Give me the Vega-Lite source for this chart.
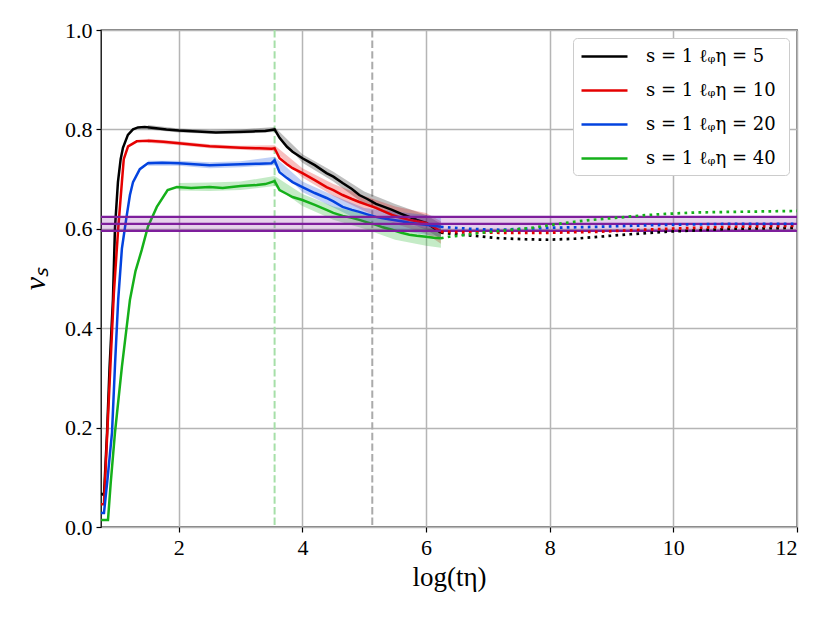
{
  "$schema": "https://vega.github.io/schema/vega-lite/v6.json",
  "width": 696,
  "height": 497,
  "autosize": {"type": "none"},
  "padding": {"left": 101, "top": 30, "right": 33, "bottom": 96},
  "config": {
    "font": "Liberation Serif",
    "view": {"stroke": "black", "strokeWidth": 1.3},
    "axis": {
      "grid": true,
      "gridColor": "#b5b5b5",
      "gridWidth": 1.5,
      "domain": false,
      "tickColor": "black",
      "tickSize": 5,
      "tickWidth": 1.2,
      "labelFontSize": 22,
      "labelColor": "black",
      "titleFontSize": 27,
      "titleFontWeight": "normal",
      "titleColor": "black"
    }
  },
  "datasets": {
    "curves": [
      {"s": "s = 1  ℓᵩη = 5", "seg": "solid", "x": 0.742, "y": 0.068},
      {"s": "s = 1  ℓᵩη = 5", "seg": "solid", "x": 0.79, "y": 0.064},
      {"s": "s = 1  ℓᵩη = 5", "seg": "solid", "x": 0.84, "y": 0.19},
      {"s": "s = 1  ℓᵩη = 5", "seg": "solid", "x": 0.88, "y": 0.32},
      {"s": "s = 1  ℓᵩη = 5", "seg": "solid", "x": 0.935, "y": 0.457},
      {"s": "s = 1  ℓᵩη = 5", "seg": "solid", "x": 0.968, "y": 0.602},
      {"s": "s = 1  ℓᵩη = 5", "seg": "solid", "x": 1.016, "y": 0.694},
      {"s": "s = 1  ℓᵩη = 5", "seg": "solid", "x": 1.06, "y": 0.74},
      {"s": "s = 1  ℓᵩη = 5", "seg": "solid", "x": 1.097, "y": 0.763},
      {"s": "s = 1  ℓᵩη = 5", "seg": "solid", "x": 1.177, "y": 0.789},
      {"s": "s = 1  ℓᵩη = 5", "seg": "solid", "x": 1.26, "y": 0.8},
      {"s": "s = 1  ℓᵩη = 5", "seg": "solid", "x": 1.34, "y": 0.804},
      {"s": "s = 1  ℓᵩη = 5", "seg": "solid", "x": 1.45, "y": 0.805},
      {"s": "s = 1  ℓᵩη = 5", "seg": "solid", "x": 1.6, "y": 0.803},
      {"s": "s = 1  ℓᵩη = 5", "seg": "solid", "x": 1.8, "y": 0.8},
      {"s": "s = 1  ℓᵩη = 5", "seg": "solid", "x": 2.0, "y": 0.798},
      {"s": "s = 1  ℓᵩη = 5", "seg": "solid", "x": 2.3, "y": 0.796},
      {"s": "s = 1  ℓᵩη = 5", "seg": "solid", "x": 2.6, "y": 0.794},
      {"s": "s = 1  ℓᵩη = 5", "seg": "solid", "x": 2.9, "y": 0.795},
      {"s": "s = 1  ℓᵩη = 5", "seg": "solid", "x": 3.2, "y": 0.796},
      {"s": "s = 1  ℓᵩη = 5", "seg": "solid", "x": 3.4, "y": 0.797},
      {"s": "s = 1  ℓᵩη = 5", "seg": "solid", "x": 3.55, "y": 0.8},
      {"s": "s = 1  ℓᵩη = 5", "seg": "solid", "x": 3.63, "y": 0.783},
      {"s": "s = 1  ℓᵩη = 5", "seg": "solid", "x": 3.75, "y": 0.765},
      {"s": "s = 1  ℓᵩη = 5", "seg": "solid", "x": 3.84, "y": 0.755},
      {"s": "s = 1  ℓᵩη = 5", "seg": "solid", "x": 4.0, "y": 0.742},
      {"s": "s = 1  ℓᵩη = 5", "seg": "solid", "x": 4.2, "y": 0.728},
      {"s": "s = 1  ℓᵩη = 5", "seg": "solid", "x": 4.39, "y": 0.712},
      {"s": "s = 1  ℓᵩη = 5", "seg": "solid", "x": 4.5, "y": 0.705},
      {"s": "s = 1  ℓᵩη = 5", "seg": "solid", "x": 4.65, "y": 0.692},
      {"s": "s = 1  ℓᵩη = 5", "seg": "solid", "x": 4.8, "y": 0.68},
      {"s": "s = 1  ℓᵩη = 5", "seg": "solid", "x": 4.92, "y": 0.668},
      {"s": "s = 1  ℓᵩη = 5", "seg": "solid", "x": 5.05, "y": 0.66},
      {"s": "s = 1  ℓᵩη = 5", "seg": "solid", "x": 5.19, "y": 0.65},
      {"s": "s = 1  ℓᵩη = 5", "seg": "solid", "x": 5.3, "y": 0.645},
      {"s": "s = 1  ℓᵩη = 5", "seg": "solid", "x": 5.45, "y": 0.638},
      {"s": "s = 1  ℓᵩη = 5", "seg": "solid", "x": 5.6, "y": 0.63},
      {"s": "s = 1  ℓᵩη = 5", "seg": "solid", "x": 5.73, "y": 0.624},
      {"s": "s = 1  ℓᵩη = 5", "seg": "solid", "x": 5.85, "y": 0.618},
      {"s": "s = 1  ℓᵩη = 5", "seg": "solid", "x": 6.0, "y": 0.612},
      {"s": "s = 1  ℓᵩη = 5", "seg": "solid", "x": 6.12, "y": 0.602},
      {"s": "s = 1  ℓᵩη = 5", "seg": "solid", "x": 6.24, "y": 0.592},
      {"s": "s = 1  ℓᵩη = 5", "seg": "dotted", "x": 6.24, "y": 0.592},
      {"s": "s = 1  ℓᵩη = 5", "seg": "dotted", "x": 6.6, "y": 0.588},
      {"s": "s = 1  ℓᵩη = 5", "seg": "dotted", "x": 7.18, "y": 0.581},
      {"s": "s = 1  ℓᵩη = 5", "seg": "dotted", "x": 7.6, "y": 0.579},
      {"s": "s = 1  ℓᵩη = 5", "seg": "dotted", "x": 7.98, "y": 0.578},
      {"s": "s = 1  ℓᵩη = 5", "seg": "dotted", "x": 8.4, "y": 0.58},
      {"s": "s = 1  ℓᵩη = 5", "seg": "dotted", "x": 8.79, "y": 0.584},
      {"s": "s = 1  ℓᵩη = 5", "seg": "dotted", "x": 9.3, "y": 0.589},
      {"s": "s = 1  ℓᵩη = 5", "seg": "dotted", "x": 9.87, "y": 0.594},
      {"s": "s = 1  ℓᵩη = 5", "seg": "dotted", "x": 10.4, "y": 0.597},
      {"s": "s = 1  ℓᵩη = 5", "seg": "dotted", "x": 10.93, "y": 0.6},
      {"s": "s = 1  ℓᵩη = 5", "seg": "dotted", "x": 11.5, "y": 0.601},
      {"s": "s = 1  ℓᵩη = 5", "seg": "dotted", "x": 12.0, "y": 0.602},

      {"s": "s = 1  ℓᵩη = 10", "seg": "solid", "x": 0.742, "y": 0.046},
      {"s": "s = 1  ℓᵩη = 10", "seg": "solid", "x": 0.79, "y": 0.046},
      {"s": "s = 1  ℓᵩη = 10", "seg": "solid", "x": 0.84, "y": 0.18},
      {"s": "s = 1  ℓᵩη = 10", "seg": "solid", "x": 0.9, "y": 0.34},
      {"s": "s = 1  ℓᵩη = 10", "seg": "solid", "x": 0.95, "y": 0.47},
      {"s": "s = 1  ℓᵩη = 10", "seg": "solid", "x": 1.02, "y": 0.6},
      {"s": "s = 1  ℓᵩη = 10", "seg": "solid", "x": 1.08, "y": 0.694},
      {"s": "s = 1  ℓᵩη = 10", "seg": "solid", "x": 1.11, "y": 0.74},
      {"s": "s = 1  ℓᵩη = 10", "seg": "solid", "x": 1.18, "y": 0.766},
      {"s": "s = 1  ℓᵩη = 10", "seg": "solid", "x": 1.32, "y": 0.776},
      {"s": "s = 1  ℓᵩη = 10", "seg": "solid", "x": 1.5, "y": 0.777},
      {"s": "s = 1  ℓᵩη = 10", "seg": "solid", "x": 1.75, "y": 0.775},
      {"s": "s = 1  ℓᵩη = 10", "seg": "solid", "x": 2.0, "y": 0.772},
      {"s": "s = 1  ℓᵩη = 10", "seg": "solid", "x": 2.5, "y": 0.766},
      {"s": "s = 1  ℓᵩη = 10", "seg": "solid", "x": 3.0, "y": 0.763},
      {"s": "s = 1  ℓᵩη = 10", "seg": "solid", "x": 3.3, "y": 0.762},
      {"s": "s = 1  ℓᵩη = 10", "seg": "solid", "x": 3.5, "y": 0.761},
      {"s": "s = 1  ℓᵩη = 10", "seg": "solid", "x": 3.55, "y": 0.762},
      {"s": "s = 1  ℓᵩη = 10", "seg": "solid", "x": 3.63, "y": 0.742},
      {"s": "s = 1  ℓᵩη = 10", "seg": "solid", "x": 3.75, "y": 0.73},
      {"s": "s = 1  ℓᵩη = 10", "seg": "solid", "x": 3.84, "y": 0.722},
      {"s": "s = 1  ℓᵩη = 10", "seg": "solid", "x": 4.0, "y": 0.712},
      {"s": "s = 1  ℓᵩη = 10", "seg": "solid", "x": 4.2, "y": 0.698},
      {"s": "s = 1  ℓᵩη = 10", "seg": "solid", "x": 4.39, "y": 0.684},
      {"s": "s = 1  ℓᵩη = 10", "seg": "solid", "x": 4.5, "y": 0.678},
      {"s": "s = 1  ℓᵩη = 10", "seg": "solid", "x": 4.65, "y": 0.668},
      {"s": "s = 1  ℓᵩη = 10", "seg": "solid", "x": 4.8, "y": 0.66},
      {"s": "s = 1  ℓᵩη = 10", "seg": "solid", "x": 4.92, "y": 0.654},
      {"s": "s = 1  ℓᵩη = 10", "seg": "solid", "x": 5.05, "y": 0.648},
      {"s": "s = 1  ℓᵩη = 10", "seg": "solid", "x": 5.19, "y": 0.642},
      {"s": "s = 1  ℓᵩη = 10", "seg": "solid", "x": 5.3, "y": 0.636},
      {"s": "s = 1  ℓᵩη = 10", "seg": "solid", "x": 5.45, "y": 0.628},
      {"s": "s = 1  ℓᵩη = 10", "seg": "solid", "x": 5.6, "y": 0.622},
      {"s": "s = 1  ℓᵩη = 10", "seg": "solid", "x": 5.73, "y": 0.618},
      {"s": "s = 1  ℓᵩη = 10", "seg": "solid", "x": 5.85, "y": 0.615},
      {"s": "s = 1  ℓᵩη = 10", "seg": "solid", "x": 6.0, "y": 0.612},
      {"s": "s = 1  ℓᵩη = 10", "seg": "solid", "x": 6.12, "y": 0.604},
      {"s": "s = 1  ℓᵩη = 10", "seg": "solid", "x": 6.24, "y": 0.594},
      {"s": "s = 1  ℓᵩη = 10", "seg": "dotted", "x": 6.24, "y": 0.594},
      {"s": "s = 1  ℓᵩη = 10", "seg": "dotted", "x": 6.7, "y": 0.593},
      {"s": "s = 1  ℓᵩη = 10", "seg": "dotted", "x": 7.18, "y": 0.592},
      {"s": "s = 1  ℓᵩη = 10", "seg": "dotted", "x": 7.98, "y": 0.592},
      {"s": "s = 1  ℓᵩη = 10", "seg": "dotted", "x": 8.79, "y": 0.594},
      {"s": "s = 1  ℓᵩη = 10", "seg": "dotted", "x": 9.3, "y": 0.597},
      {"s": "s = 1  ℓᵩη = 10", "seg": "dotted", "x": 9.87, "y": 0.6},
      {"s": "s = 1  ℓᵩη = 10", "seg": "dotted", "x": 10.4, "y": 0.602},
      {"s": "s = 1  ℓᵩη = 10", "seg": "dotted", "x": 10.93, "y": 0.604},
      {"s": "s = 1  ℓᵩη = 10", "seg": "dotted", "x": 11.5, "y": 0.605},
      {"s": "s = 1  ℓᵩη = 10", "seg": "dotted", "x": 12.0, "y": 0.606},

      {"s": "s = 1  ℓᵩη = 20", "seg": "solid", "x": 0.742, "y": 0.028},
      {"s": "s = 1  ℓᵩη = 20", "seg": "solid", "x": 0.79, "y": 0.028},
      {"s": "s = 1  ℓᵩη = 20", "seg": "solid", "x": 0.85, "y": 0.1},
      {"s": "s = 1  ℓᵩη = 20", "seg": "solid", "x": 0.92, "y": 0.19},
      {"s": "s = 1  ℓᵩη = 20", "seg": "solid", "x": 0.97, "y": 0.33},
      {"s": "s = 1  ℓᵩη = 20", "seg": "solid", "x": 1.02, "y": 0.457},
      {"s": "s = 1  ℓᵩη = 20", "seg": "solid", "x": 1.08, "y": 0.56},
      {"s": "s = 1  ℓᵩη = 20", "seg": "solid", "x": 1.15, "y": 0.62},
      {"s": "s = 1  ℓᵩη = 20", "seg": "solid", "x": 1.21, "y": 0.668},
      {"s": "s = 1  ℓᵩη = 20", "seg": "solid", "x": 1.26, "y": 0.694},
      {"s": "s = 1  ℓᵩη = 20", "seg": "solid", "x": 1.37, "y": 0.72},
      {"s": "s = 1  ℓᵩη = 20", "seg": "solid", "x": 1.5, "y": 0.732},
      {"s": "s = 1  ℓᵩη = 20", "seg": "solid", "x": 1.73, "y": 0.733},
      {"s": "s = 1  ℓᵩη = 20", "seg": "solid", "x": 2.0, "y": 0.732},
      {"s": "s = 1  ℓᵩη = 20", "seg": "solid", "x": 2.5, "y": 0.728},
      {"s": "s = 1  ℓᵩη = 20", "seg": "solid", "x": 3.0, "y": 0.73},
      {"s": "s = 1  ℓᵩη = 20", "seg": "solid", "x": 3.3, "y": 0.731},
      {"s": "s = 1  ℓᵩη = 20", "seg": "solid", "x": 3.5, "y": 0.732},
      {"s": "s = 1  ℓᵩη = 20", "seg": "solid", "x": 3.55, "y": 0.738},
      {"s": "s = 1  ℓᵩη = 20", "seg": "solid", "x": 3.63, "y": 0.714},
      {"s": "s = 1  ℓᵩη = 20", "seg": "solid", "x": 3.75, "y": 0.702},
      {"s": "s = 1  ℓᵩη = 20", "seg": "solid", "x": 3.84, "y": 0.694},
      {"s": "s = 1  ℓᵩη = 20", "seg": "solid", "x": 4.0, "y": 0.684},
      {"s": "s = 1  ℓᵩη = 20", "seg": "solid", "x": 4.2, "y": 0.672},
      {"s": "s = 1  ℓᵩη = 20", "seg": "solid", "x": 4.39, "y": 0.662},
      {"s": "s = 1  ℓᵩη = 20", "seg": "solid", "x": 4.5, "y": 0.655},
      {"s": "s = 1  ℓᵩη = 20", "seg": "solid", "x": 4.65, "y": 0.644},
      {"s": "s = 1  ℓᵩη = 20", "seg": "solid", "x": 4.8, "y": 0.638},
      {"s": "s = 1  ℓᵩη = 20", "seg": "solid", "x": 4.92, "y": 0.634},
      {"s": "s = 1  ℓᵩη = 20", "seg": "solid", "x": 5.05, "y": 0.629},
      {"s": "s = 1  ℓᵩη = 20", "seg": "solid", "x": 5.19, "y": 0.624},
      {"s": "s = 1  ℓᵩη = 20", "seg": "solid", "x": 5.3, "y": 0.621},
      {"s": "s = 1  ℓᵩη = 20", "seg": "solid", "x": 5.45, "y": 0.618},
      {"s": "s = 1  ℓᵩη = 20", "seg": "solid", "x": 5.6, "y": 0.615},
      {"s": "s = 1  ℓᵩη = 20", "seg": "solid", "x": 5.73, "y": 0.612},
      {"s": "s = 1  ℓᵩη = 20", "seg": "solid", "x": 5.85, "y": 0.61},
      {"s": "s = 1  ℓᵩη = 20", "seg": "solid", "x": 6.0, "y": 0.608},
      {"s": "s = 1  ℓᵩη = 20", "seg": "solid", "x": 6.12, "y": 0.606},
      {"s": "s = 1  ℓᵩη = 20", "seg": "solid", "x": 6.24, "y": 0.604},
      {"s": "s = 1  ℓᵩη = 20", "seg": "dotted", "x": 6.24, "y": 0.604},
      {"s": "s = 1  ℓᵩη = 20", "seg": "dotted", "x": 6.7, "y": 0.6},
      {"s": "s = 1  ℓᵩη = 20", "seg": "dotted", "x": 7.18, "y": 0.598},
      {"s": "s = 1  ℓᵩη = 20", "seg": "dotted", "x": 7.98, "y": 0.602},
      {"s": "s = 1  ℓᵩη = 20", "seg": "dotted", "x": 8.79, "y": 0.604},
      {"s": "s = 1  ℓᵩη = 20", "seg": "dotted", "x": 9.3, "y": 0.606},
      {"s": "s = 1  ℓᵩη = 20", "seg": "dotted", "x": 9.87, "y": 0.608},
      {"s": "s = 1  ℓᵩη = 20", "seg": "dotted", "x": 10.93, "y": 0.61},
      {"s": "s = 1  ℓᵩη = 20", "seg": "dotted", "x": 12.0, "y": 0.61},

      {"s": "s = 1  ℓᵩη = 40", "seg": "solid", "x": 0.742, "y": 0.014},
      {"s": "s = 1  ℓᵩη = 40", "seg": "solid", "x": 0.855, "y": 0.014},
      {"s": "s = 1  ℓᵩη = 40", "seg": "solid", "x": 0.9, "y": 0.09},
      {"s": "s = 1  ℓᵩη = 40", "seg": "solid", "x": 0.968, "y": 0.19},
      {"s": "s = 1  ℓᵩη = 40", "seg": "solid", "x": 1.08, "y": 0.322},
      {"s": "s = 1  ℓᵩη = 40", "seg": "solid", "x": 1.21, "y": 0.457},
      {"s": "s = 1  ℓᵩη = 40", "seg": "solid", "x": 1.3, "y": 0.515},
      {"s": "s = 1  ℓᵩη = 40", "seg": "solid", "x": 1.4, "y": 0.557},
      {"s": "s = 1  ℓᵩη = 40", "seg": "solid", "x": 1.5, "y": 0.604},
      {"s": "s = 1  ℓᵩη = 40", "seg": "solid", "x": 1.645, "y": 0.644},
      {"s": "s = 1  ℓᵩη = 40", "seg": "solid", "x": 1.82, "y": 0.678},
      {"s": "s = 1  ℓᵩη = 40", "seg": "solid", "x": 1.97, "y": 0.684},
      {"s": "s = 1  ℓᵩη = 40", "seg": "solid", "x": 2.2, "y": 0.682},
      {"s": "s = 1  ℓᵩη = 40", "seg": "solid", "x": 2.5, "y": 0.684},
      {"s": "s = 1  ℓᵩη = 40", "seg": "solid", "x": 2.71, "y": 0.682},
      {"s": "s = 1  ℓᵩη = 40", "seg": "solid", "x": 3.0, "y": 0.686},
      {"s": "s = 1  ℓᵩη = 40", "seg": "solid", "x": 3.26, "y": 0.688},
      {"s": "s = 1  ℓᵩη = 40", "seg": "solid", "x": 3.4, "y": 0.69},
      {"s": "s = 1  ℓᵩη = 40", "seg": "solid", "x": 3.5, "y": 0.694},
      {"s": "s = 1  ℓᵩη = 40", "seg": "solid", "x": 3.55, "y": 0.696},
      {"s": "s = 1  ℓᵩη = 40", "seg": "solid", "x": 3.63, "y": 0.678},
      {"s": "s = 1  ℓᵩη = 40", "seg": "solid", "x": 3.75, "y": 0.67},
      {"s": "s = 1  ℓᵩη = 40", "seg": "solid", "x": 3.84, "y": 0.664},
      {"s": "s = 1  ℓᵩη = 40", "seg": "solid", "x": 4.0, "y": 0.658},
      {"s": "s = 1  ℓᵩη = 40", "seg": "solid", "x": 4.2, "y": 0.648},
      {"s": "s = 1  ℓᵩη = 40", "seg": "solid", "x": 4.39, "y": 0.638},
      {"s": "s = 1  ℓᵩη = 40", "seg": "solid", "x": 4.5, "y": 0.632},
      {"s": "s = 1  ℓᵩη = 40", "seg": "solid", "x": 4.65, "y": 0.626},
      {"s": "s = 1  ℓᵩη = 40", "seg": "solid", "x": 4.8, "y": 0.622},
      {"s": "s = 1  ℓᵩη = 40", "seg": "solid", "x": 4.92, "y": 0.618},
      {"s": "s = 1  ℓᵩη = 40", "seg": "solid", "x": 5.05, "y": 0.613},
      {"s": "s = 1  ℓᵩη = 40", "seg": "solid", "x": 5.19, "y": 0.608},
      {"s": "s = 1  ℓᵩη = 40", "seg": "solid", "x": 5.3, "y": 0.603},
      {"s": "s = 1  ℓᵩη = 40", "seg": "solid", "x": 5.45, "y": 0.598},
      {"s": "s = 1  ℓᵩη = 40", "seg": "solid", "x": 5.6, "y": 0.592},
      {"s": "s = 1  ℓᵩη = 40", "seg": "solid", "x": 5.73, "y": 0.588},
      {"s": "s = 1  ℓᵩη = 40", "seg": "solid", "x": 5.85, "y": 0.586},
      {"s": "s = 1  ℓᵩη = 40", "seg": "solid", "x": 6.0, "y": 0.584},
      {"s": "s = 1  ℓᵩη = 40", "seg": "solid", "x": 6.12, "y": 0.582},
      {"s": "s = 1  ℓᵩη = 40", "seg": "solid", "x": 6.24, "y": 0.581},
      {"s": "s = 1  ℓᵩη = 40", "seg": "dotted", "x": 6.24, "y": 0.581},
      {"s": "s = 1  ℓᵩη = 40", "seg": "dotted", "x": 6.37, "y": 0.584},
      {"s": "s = 1  ℓᵩη = 40", "seg": "dotted", "x": 6.6, "y": 0.587},
      {"s": "s = 1  ℓᵩη = 40", "seg": "dotted", "x": 6.9, "y": 0.592},
      {"s": "s = 1  ℓᵩη = 40", "seg": "dotted", "x": 7.3, "y": 0.597},
      {"s": "s = 1  ℓᵩη = 40", "seg": "dotted", "x": 7.71, "y": 0.602},
      {"s": "s = 1  ℓᵩη = 40", "seg": "dotted", "x": 8.26, "y": 0.612},
      {"s": "s = 1  ℓᵩη = 40", "seg": "dotted", "x": 8.6, "y": 0.617},
      {"s": "s = 1  ℓᵩη = 40", "seg": "dotted", "x": 9.06, "y": 0.622},
      {"s": "s = 1  ℓᵩη = 40", "seg": "dotted", "x": 9.5, "y": 0.627},
      {"s": "s = 1  ℓᵩη = 40", "seg": "dotted", "x": 9.87, "y": 0.63},
      {"s": "s = 1  ℓᵩη = 40", "seg": "dotted", "x": 10.4, "y": 0.633},
      {"s": "s = 1  ℓᵩη = 40", "seg": "dotted", "x": 10.93, "y": 0.634},
      {"s": "s = 1  ℓᵩη = 40", "seg": "dotted", "x": 11.5, "y": 0.635},
      {"s": "s = 1  ℓᵩη = 40", "seg": "dotted", "x": 12.0, "y": 0.636}
    ],
    "bands": [
      {"s": "s = 1  ℓᵩη = 5", "x": 1.5, "lo": 0.8, "hi": 0.809},
      {"s": "s = 1  ℓᵩη = 5", "x": 2.0, "lo": 0.794, "hi": 0.802},
      {"s": "s = 1  ℓᵩη = 5", "x": 2.5, "lo": 0.791, "hi": 0.799},
      {"s": "s = 1  ℓᵩη = 5", "x": 3.0, "lo": 0.791, "hi": 0.8},
      {"s": "s = 1  ℓᵩη = 5", "x": 3.55, "lo": 0.795, "hi": 0.805},
      {"s": "s = 1  ℓᵩη = 5", "x": 4.0, "lo": 0.733, "hi": 0.75},
      {"s": "s = 1  ℓᵩη = 5", "x": 4.5, "lo": 0.695, "hi": 0.715},
      {"s": "s = 1  ℓᵩη = 5", "x": 5.0, "lo": 0.65, "hi": 0.675},
      {"s": "s = 1  ℓᵩη = 5", "x": 5.5, "lo": 0.622, "hi": 0.65},
      {"s": "s = 1  ℓᵩη = 5", "x": 6.0, "lo": 0.598, "hi": 0.628},
      {"s": "s = 1  ℓᵩη = 5", "x": 6.24, "lo": 0.58, "hi": 0.61},
      {"s": "s = 1  ℓᵩη = 10", "x": 1.5, "lo": 0.773, "hi": 0.781},
      {"s": "s = 1  ℓᵩη = 10", "x": 2.0, "lo": 0.768, "hi": 0.776},
      {"s": "s = 1  ℓᵩη = 10", "x": 2.5, "lo": 0.762, "hi": 0.77},
      {"s": "s = 1  ℓᵩη = 10", "x": 3.0, "lo": 0.759, "hi": 0.767},
      {"s": "s = 1  ℓᵩη = 10", "x": 3.55, "lo": 0.756, "hi": 0.768},
      {"s": "s = 1  ℓᵩη = 10", "x": 4.0, "lo": 0.703, "hi": 0.722},
      {"s": "s = 1  ℓᵩη = 10", "x": 4.5, "lo": 0.666, "hi": 0.69},
      {"s": "s = 1  ℓᵩη = 10", "x": 5.0, "lo": 0.636, "hi": 0.666},
      {"s": "s = 1  ℓᵩη = 10", "x": 5.5, "lo": 0.61, "hi": 0.645},
      {"s": "s = 1  ℓᵩη = 10", "x": 6.0, "lo": 0.59, "hi": 0.632},
      {"s": "s = 1  ℓᵩη = 10", "x": 6.24, "lo": 0.57, "hi": 0.615},
      {"s": "s = 1  ℓᵩη = 20", "x": 1.5, "lo": 0.727, "hi": 0.737},
      {"s": "s = 1  ℓᵩη = 20", "x": 2.0, "lo": 0.727, "hi": 0.737},
      {"s": "s = 1  ℓᵩη = 20", "x": 2.5, "lo": 0.722, "hi": 0.734},
      {"s": "s = 1  ℓᵩη = 20", "x": 3.0, "lo": 0.724, "hi": 0.736},
      {"s": "s = 1  ℓᵩη = 20", "x": 3.55, "lo": 0.728, "hi": 0.745},
      {"s": "s = 1  ℓᵩη = 20", "x": 4.0, "lo": 0.674, "hi": 0.695},
      {"s": "s = 1  ℓᵩη = 20", "x": 4.5, "lo": 0.643, "hi": 0.667},
      {"s": "s = 1  ℓᵩη = 20", "x": 5.0, "lo": 0.612, "hi": 0.642},
      {"s": "s = 1  ℓᵩη = 20", "x": 5.5, "lo": 0.598, "hi": 0.635},
      {"s": "s = 1  ℓᵩη = 20", "x": 6.0, "lo": 0.588, "hi": 0.628},
      {"s": "s = 1  ℓᵩη = 20", "x": 6.24, "lo": 0.584, "hi": 0.624},
      {"s": "s = 1  ℓᵩη = 40", "x": 2.0, "lo": 0.677, "hi": 0.692},
      {"s": "s = 1  ℓᵩη = 40", "x": 2.5, "lo": 0.676, "hi": 0.693},
      {"s": "s = 1  ℓᵩη = 40", "x": 3.0, "lo": 0.678, "hi": 0.695},
      {"s": "s = 1  ℓᵩη = 40", "x": 3.55, "lo": 0.686, "hi": 0.706},
      {"s": "s = 1  ℓᵩη = 40", "x": 4.0, "lo": 0.646, "hi": 0.67},
      {"s": "s = 1  ℓᵩη = 40", "x": 4.5, "lo": 0.618, "hi": 0.645},
      {"s": "s = 1  ℓᵩη = 40", "x": 5.0, "lo": 0.6, "hi": 0.63},
      {"s": "s = 1  ℓᵩη = 40", "x": 5.5, "lo": 0.578, "hi": 0.612},
      {"s": "s = 1  ℓᵩη = 40", "x": 6.0, "lo": 0.566, "hi": 0.602},
      {"s": "s = 1  ℓᵩη = 40", "x": 6.24, "lo": 0.562, "hi": 0.6}
    ]
  },
  "layer": [
    {
      "data": {"values": [{"x": 3.55}]},
      "mark": {"type": "rule", "color": "#a6dfa8", "strokeWidth": 2, "strokeDash": [7.4, 3.2]},
      "encoding": {
        "x": {"field": "x", "type": "quantitative", "title": "log(tη)", "scale": {"domain": [0.742, 12], "nice": false, "zero": false},
          "axis": {"values": [2, 4, 6, 8, 10, 12], "format": "d", "labelPadding": 5, "titlePadding": 6}}
      }
    },
    {
      "data": {"values": [{"x": 5.13}]},
      "mark": {"type": "rule", "color": "#aaaaaa", "strokeWidth": 2, "strokeDash": [7.4, 3.2]},
      "encoding": {
        "x": {"field": "x", "type": "quantitative", "title": "log(tη)", "scale": {"domain": [0.742, 12], "nice": false, "zero": false},
          "axis": {"values": [2, 4, 6, 8, 10, 12], "format": "d", "labelPadding": 5, "titlePadding": 6}}
      }
    },
    {
      "data": {"name": "bands"},
      "mark": {"type": "area", "opacity": 0.25, "clip": true},
      "encoding": {
        "x": {"field": "x", "type": "quantitative", "title": "log(tη)", "scale": {"domain": [0.742, 12], "nice": false, "zero": false},
          "axis": {"values": [2, 4, 6, 8, 10, 12], "format": "d", "labelPadding": 5, "titlePadding": 6}},
        "y": {"field": "lo", "type": "quantitative", "title": "vₛ", "scale": {"domain": [0, 1], "nice": false, "zero": false},
          "axis": {"values": [0, 0.2, 0.4, 0.6, 0.8, 1.0], "format": ".1f", "labelPadding": 4, "titlePadding": 14, "titleFontStyle": "italic", "titleFontSize": 30}},
        "y2": {"field": "hi"},
        "color": {
          "field": "s", "type": "nominal",
          "scale": {"domain": ["s = 1  ℓᵩη = 5", "s = 1  ℓᵩη = 10", "s = 1  ℓᵩη = 20", "s = 1  ℓᵩη = 40"], "range": ["#000000", "#e50000", "#0343df", "#15b01a"]}
        }
      }
    },
    {
      "data": {"name": "curves"},
      "transform": [{"filter": "datum.seg == 'solid'"}],
      "mark": {"type": "line", "strokeWidth": 2.5, "clip": true},
      "encoding": {
        "x": {"field": "x", "type": "quantitative", "title": "log(tη)", "scale": {"domain": [0.742, 12], "nice": false, "zero": false},
          "axis": {"values": [2, 4, 6, 8, 10, 12], "format": "d", "labelPadding": 5, "titlePadding": 6}},
        "y": {"field": "y", "type": "quantitative", "title": "vₛ", "scale": {"domain": [0, 1], "nice": false, "zero": false},
          "axis": {"values": [0, 0.2, 0.4, 0.6, 0.8, 1.0], "format": ".1f", "labelPadding": 4, "titlePadding": 14, "titleFontStyle": "italic", "titleFontSize": 30}},
        "color": {
          "field": "s", "type": "nominal",
          "scale": {"domain": ["s = 1  ℓᵩη = 5", "s = 1  ℓᵩη = 10", "s = 1  ℓᵩη = 20", "s = 1  ℓᵩη = 40"], "range": ["#000000", "#e50000", "#0343df", "#15b01a"]},
          "legend": {
            "title": null,
            "orient": "top-right",
            "offset": 8,
            "symbolType": "M-1,0H3.6",
            "symbolSize": 400,
            "symbolStrokeWidth": 2.5,
            "symbolOpacity": 1,
            "labelOffset": 43,
            "labelFont": "DejaVu Serif",
            "labelFontSize": 18,
            "labelColor": "black",
            "rowPadding": 13,
            "padding": 7,
            "strokeColor": "#cccccc",
            "fillColor": "white",
            "cornerRadius": 4,
            "encode": {"symbols": {"update": {"opacity": {"value": 1}, "fillOpacity": {"value": 1}, "strokeOpacity": {"value": 1}}}}
          }
        }
      }
    },
    {
      "data": {"values": [{"lo": 0.596, "hi": 0.624}]},
      "mark": {"type": "rect", "color": "#7e1e9c", "opacity": 0.2},
      "encoding": {
        "y": {"field": "lo", "type": "quantitative", "title": "vₛ", "scale": {"domain": [0, 1], "nice": false, "zero": false},
          "axis": {"values": [0, 0.2, 0.4, 0.6, 0.8, 1.0], "format": ".1f", "labelPadding": 4, "titlePadding": 14, "titleFontStyle": "italic", "titleFontSize": 30}},
        "y2": {"field": "hi"}
      }
    },
    {
      "data": {"values": [{"y": 0.596}, {"y": 0.61}, {"y": 0.624}]},
      "mark": {"type": "rule", "color": "#7e1e9c", "strokeWidth": 2.2},
      "encoding": {
        "y": {"field": "y", "type": "quantitative", "title": "vₛ", "scale": {"domain": [0, 1], "nice": false, "zero": false},
          "axis": {"values": [0, 0.2, 0.4, 0.6, 0.8, 1.0], "format": ".1f", "labelPadding": 4, "titlePadding": 14, "titleFontStyle": "italic", "titleFontSize": 30}}
      }
    },
    {
      "data": {"name": "curves"},
      "transform": [{"filter": "datum.seg == 'dotted'"}],
      "mark": {"type": "line", "strokeWidth": 2.7, "strokeDash": [2.7, 4.3], "clip": true},
      "encoding": {
        "x": {"field": "x", "type": "quantitative", "title": "log(tη)", "scale": {"domain": [0.742, 12], "nice": false, "zero": false},
          "axis": {"values": [2, 4, 6, 8, 10, 12], "format": "d", "labelPadding": 5, "titlePadding": 6}},
        "y": {"field": "y", "type": "quantitative", "title": "vₛ", "scale": {"domain": [0, 1], "nice": false, "zero": false},
          "axis": {"values": [0, 0.2, 0.4, 0.6, 0.8, 1.0], "format": ".1f", "labelPadding": 4, "titlePadding": 14, "titleFontStyle": "italic", "titleFontSize": 30}},
        "color": {
          "field": "s", "type": "nominal",
          "scale": {"domain": ["s = 1  ℓᵩη = 5", "s = 1  ℓᵩη = 10", "s = 1  ℓᵩη = 20", "s = 1  ℓᵩη = 40"], "range": ["#000000", "#e50000", "#0343df", "#15b01a"]}
        }
      }
    }
  ]
}
